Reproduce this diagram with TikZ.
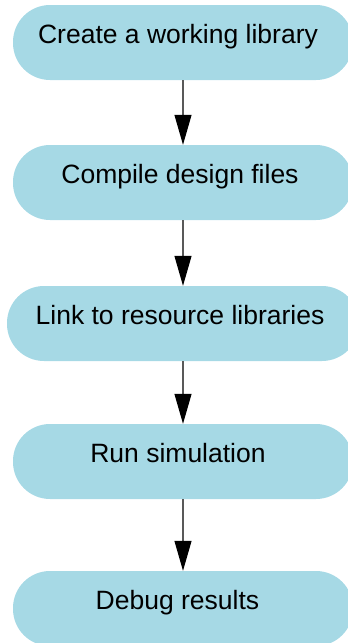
\documentclass[tikz,border=0pt]{standalone}
\usepackage{fontspec}
\setmainfont{Liberation Sans}
\usetikzlibrary{arrows.meta}
\definecolor{boxblue}{HTML}{A6D9E5}
\begin{document}
\begin{tikzpicture}[x=1pt,y=-1pt,
  stage/.style={fill=boxblue, draw=none, rounded corners=37pt, minimum width=#1, minimum height=75pt,
    inner sep=0pt, text height=18pt, text depth=16pt, font=\fontsize{26.5}{30}\selectfont},
  stage/.default=340pt,
  arr/.style={draw=black!65, line width=1.2pt, -{Triangle[length=30pt,width=17pt,color=black]}}]
\useasboundingbox (0,0) rectangle (348,643);
\clip (0,0) rectangle (348,643);
\node[stage] (n1) at (183,42.5) {Create a working library\kern10pt};
\node[stage] (n2) at (183,182.5) {Compile design files\kern6pt};
\node[stage=352pt] (n3) at (183,323.5) {Link to resource libraries\kern6pt};
\node[stage] (n4) at (183,461.5) {Run simulation\kern10pt};
\node[stage] (n5) at (183,608.5) {Debug results\kern11pt};
\draw[arr] (n1) -- (n2);
\draw[arr] (n2) -- (n3);
\draw[arr] (n3) -- (n4);
\draw[arr] (n4) -- (n5);
\end{tikzpicture}
\end{document}
